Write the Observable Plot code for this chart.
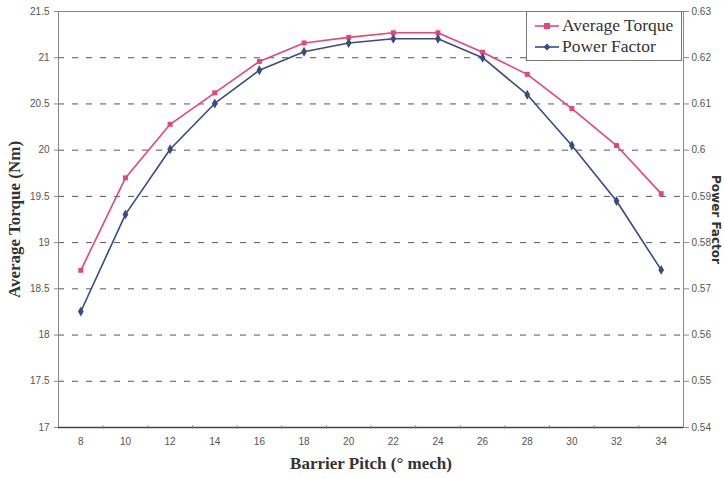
<!DOCTYPE html>
<html>
<head>
<meta charset="utf-8">
<script src="https://cdn.jsdelivr.net/npm/d3@7"></script>
<script src="https://cdn.jsdelivr.net/npm/@observablehq/plot@0.6"></script>
<style>
  html, body { margin: 0; padding: 0; background: #fff; }
  #wrap { position: relative; width: 725px; height: 478px; }
  #legend {
    position: absolute; left: 526px; top: 11px; width: 156px; height: 50px;
    border: 1px solid #777; background: #fff; box-sizing: border-box;
    font-family: "Liberation Serif", "Times New Roman", serif; font-size: 17.5px; color: #333;
    padding-top: 3px;
  }
  .lg { display: flex; align-items: center; height: 21px; }
  .lg svg { margin-left: 8px; margin-right: 3px; }
</style>
</head>
<body>
<div id="wrap"><div id="legend"></div></div>
<script>
// ---- data ----
const barrierPitch = [8, 10, 12, 14, 16, 18, 20, 22, 24, 26, 28, 30, 32, 34];
const averageTorque = [18.70, 19.70, 20.28, 20.62, 20.96, 21.16, 21.22, 21.27, 21.27, 21.06, 20.82, 20.45, 20.05, 19.53];
const powerFactor = [0.5651, 0.5861, 0.6002, 0.6101, 0.6173, 0.6213, 0.6232, 0.6241, 0.6241, 0.6200, 0.6120, 0.6010, 0.5890, 0.5741];
const leftTicks = [17, 17.5, 18, 18.5, 19, 19.5, 20, 20.5, 21, 21.5];
const rightTicks = [0.54, 0.55, 0.56, 0.57, 0.58, 0.59, 0.6, 0.61, 0.62, 0.63];
const gridTicks = [17.5, 18, 18.5, 19, 19.5, 20, 20.5, 21];
const minorXTicks = [9, 11, 13, 15, 17, 19, 21, 23, 25, 27, 29, 31, 33];
const seriesNames = ["Average Torque", "Power Factor"];
const seriesColors = ["#e6457c", "#3a4a82"];

// map power factor onto torque scale: 0.54..0.63 -> 17..21.5
const pfToT = pf => 17 + (pf - 0.54) * 50;
const tToPf = t => 0.54 + (t - 17) / 50;

const torqueData = barrierPitch.map((x, i) => ({x, y: averageTorque[i]}));
const pfData = barrierPitch.map((x, i) => ({x, y: pfToT(powerFactor[i])}));

const chart = Plot.plot({
  width: 725,
  height: 478,
  marginLeft: 58,
  marginRight: 42,
  marginTop: 11,
  marginBottom: 51,
  style: {fontFamily: "'Liberation Sans', Arial, sans-serif", fontSize: "10px", color: "#555", background: "transparent"},
  x: {type: "linear", domain: [7, 35]},
  y: {domain: [17, 21.5]},
  marks: [
    Plot.ruleY(gridTicks, {stroke: "#555", strokeDasharray: "6,8", strokeWidth: 1}),
    Plot.frame({anchor: "top", stroke: "#888"}),
    Plot.frame({anchor: "left", stroke: "#888"}),
    Plot.frame({anchor: "right", stroke: "#888"}),
    Plot.ruleY([17], {stroke: "#444", strokeWidth: 1.5}),
    Plot.axisY({anchor: "left", ticks: leftTicks, tickSize: 4, tickPadding: 5, stroke: "#888",
      tickFormat: d => String(d), label: null}),
    Plot.axisY({anchor: "right", ticks: rightTicks.map(pfToT), tickSize: 5, tickPadding: 3, stroke: "#888",
      tickFormat: d => String(+tToPf(d).toFixed(2)), label: null}),
    Plot.axisX({anchor: "bottom", ticks: barrierPitch, tickSize: 0, tickPadding: 10, label: null,
      tickFormat: d => String(d)}),
    Plot.axisX({anchor: "bottom", ticks: minorXTicks, tickSize: 3, text: null, dy: -1.5, stroke: "#777", label: null}),
    Plot.line(torqueData, {x: "x", y: "y", stroke: seriesColors[0], strokeWidth: 1.6}),
    Plot.line(pfData, {x: "x", y: "y", stroke: seriesColors[1], strokeWidth: 1.6}),
    Plot.dot(torqueData, {x: "x", y: "y", symbol: "square", r: 2.8, fill: seriesColors[0], stroke: "none"}),
    Plot.dot(pfData, {x: "x", y: "y", symbol: "diamond", r: 3, fill: seriesColors[1], stroke: "none"}),
    Plot.text(["Average Torque (Nm)"], {frameAnchor: "left", textAnchor: "middle", rotate: -90, dx: -44,
      fontFamily: "'Liberation Serif', 'Times New Roman', serif", fontWeight: "bold", fontSize: 17, fill: "#333"}),
    Plot.text(["Power Factor"], {frameAnchor: "right", textAnchor: "middle", rotate: 90, dx: 32,
      fontFamily: "'DejaVu Sans', sans-serif", fontWeight: "bold", fontSize: 12, fill: "#333"}),
    Plot.text(["Barrier Pitch (° mech)"], {frameAnchor: "bottom", textAnchor: "middle", dy: 41,
      fontFamily: "'Liberation Serif', 'Times New Roman', serif", fontWeight: "bold", fontSize: 17, fill: "#333"})
  ]
});
document.getElementById("wrap").prepend(chart);

// legend
const legend = document.getElementById("legend");
seriesNames.forEach((name, i) => {
  const row = document.createElement("div");
  row.className = "lg";
  const marker = i === 0
    ? `<rect x="9" y="3" width="6" height="6" fill="${seriesColors[i]}"/>`
    : `<path d="M12,2.5 L15.5,6 L12,9.5 L8.5,6 Z" fill="${seriesColors[i]}"/>`;
  row.innerHTML = `<svg width="24" height="12"><line x1="0" y1="6" x2="24" y2="6" stroke="${seriesColors[i]}" stroke-width="1.6"/>${marker}</svg><span>${name}</span>`;
  legend.appendChild(row);
});
</script>
</body>
</html>
